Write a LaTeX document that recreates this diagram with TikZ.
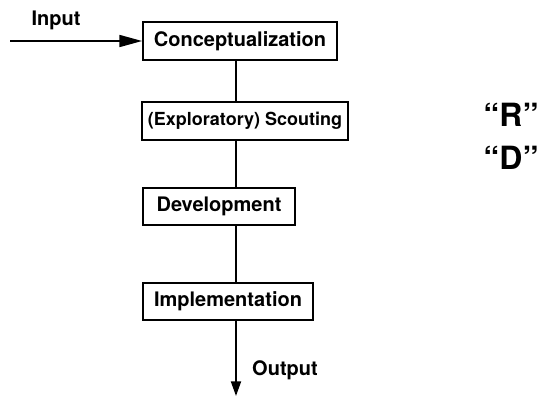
\documentclass[tikz,border=0pt]{standalone}
\usepackage{fontspec}
\setmainfont{TeX Gyre Heros}
\usetikzlibrary{arrows.meta}
\begin{document}
\begin{tikzpicture}[x=0.75pt,y=-0.75pt,
  stage/.style={draw,line width=1.4pt,inner sep=0pt,font=\bfseries\fontsize{15}{18}\selectfont},
  flow/.style={line width=1.4pt},
  lbl/.style={inner sep=0pt,font=\bfseries\fontsize{15}{18}\selectfont},
  big/.style={inner sep=0pt,font=\bfseries\fontsize{24}{28}\selectfont}]
\useasboundingbox (0,0) rectangle (541,397);
% stages of the process
\node[stage,minimum width=145.5pt,minimum height=28.5pt] (C) at (240,41) {Conceptualization};
\node[stage,minimum width=154.5pt,minimum height=28.5pt,font=\bfseries\fontsize{13.5}{16}\selectfont] (S) at (245,121) {(Exploratory) Scouting};
\node[stage,minimum width=114pt,minimum height=27.75pt] (D) at (219,206.5) {Development};
\node[stage,minimum width=127.5pt,minimum height=27.75pt] (I) at (228,301.5) {Implementation};
% spine of the chain
\coordinate (spine) at (236,0);
\coordinate (in) at (10,41);
\coordinate (out) at (236,396);
\draw[flow] (C.south -| spine) -- (S.north -| spine);
\draw[flow] (S.south -| spine) -- (D.north -| spine);
\draw[flow] (D.south -| spine) -- (I.north -| spine);
\draw[line width=1.2pt,-{Triangle[length=17pt,width=9pt]}] (in) -- (C.west);
\draw[flow,-{Triangle[length=11pt,width=7.5pt]}] (I.south -| spine) -- (out);
% labels
\node[lbl] (inl) at (56,20) {Input};
\node[lbl] (outl) at (285,370) {Output};
\node[big] (R) at (511,115) {``R''};
\node[big] (Dl) at (511,158) {``D''};
\end{tikzpicture}
\end{document}
